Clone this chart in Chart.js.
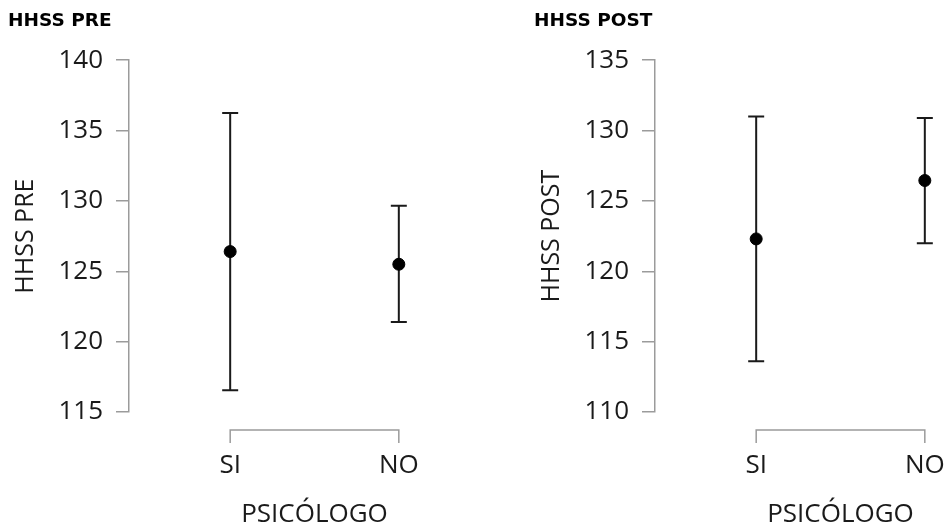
<!DOCTYPE html>
<html>
<head>
<meta charset="utf-8">
<script src="https://cdn.jsdelivr.net/npm/chart.js@4.4.1/dist/chart.umd.min.js"></script>
<style>
  html, body { margin: 0; padding: 0; background: #fff; overflow: hidden; }
  body { width: 944px; height: 524px; position: relative; }
  .panel { position: absolute; top: 0; width: 510px; height: 524px; }
</style>
</head>
<body>
<div class="panel" style="left:0"><canvas id="chart-pre"></canvas></div>
<div class="panel" style="left:526px"><canvas id="chart-post"></canvas></div>
<script>
const groups = ['SI', 'NO'];

const preMean = [126.4, 125.5];
const preLower = [116.55, 121.4];
const preUpper = [136.25, 129.65];
const preTicks = [115, 120, 125, 130, 135, 140];

const postMean = [122.3, 126.45];
const postLower = [113.6, 122.0];
const postUpper = [131.0, 130.9];
const postTicks = [110, 115, 120, 125, 130, 135];

const axisGrey = '#9b9b9b';
const inkColor = '#1a1a1a';
const fontFamily = '"Open Sans", "Lucida Grande", sans-serif';

// error bars drawn from the y scale, under the points
const errorBars = {
    id: 'errorBars',
    beforeDatasetsDraw(chart, args, opts) {
        let x = chart.scales.x, y = chart.scales.y, ctx = chart.ctx;
        ctx.save();
        ctx.strokeStyle = inkColor;
        ctx.lineWidth = 2;
        opts.lower.forEach((lo, i) => {
            let px = x.getPixelForValue(i);
            let yLo = y.getPixelForValue(lo);
            let yHi = y.getPixelForValue(opts.upper[i]);
            ctx.beginPath();
            ctx.moveTo(px, yLo); ctx.lineTo(px, yHi);
            ctx.moveTo(px - 8, yLo); ctx.lineTo(px + 8, yLo);
            ctx.moveTo(px - 8, yHi); ctx.lineTo(px + 8, yHi);
            ctx.stroke();
        });
        ctx.restore();
    }
};

// range frame for the x axis, spanning the first to last category
const xRangeFrame = {
    id: 'xRangeFrame',
    afterDraw(chart) {
        let x = chart.scales.x, ctx = chart.ctx;
        let y0 = chart.chartArea.bottom + 18;
        let x0 = x.getPixelForValue(0), x1 = x.getPixelForValue(groups.length - 1);
        ctx.save();
        ctx.strokeStyle = axisGrey;
        ctx.lineWidth = 1.5;
        ctx.beginPath();
        ctx.moveTo(x0, y0 + 13); ctx.lineTo(x0, y0); ctx.lineTo(x1, y0); ctx.lineTo(x1, y0 + 13);
        for (let i = 1; i < groups.length - 1; i++) {
            let px = x.getPixelForValue(i);
            ctx.moveTo(px, y0); ctx.lineTo(px, y0 + 13);
        }
        ctx.stroke();
        ctx.restore();
    }
};

function makePanel(canvasId, title, means, lower, upper, ticks) {
    return new Chart(document.getElementById(canvasId), {
        type: 'scatter',
        data: {
            datasets: [{
                data: means.map((m, i) => ({ x: i, y: m })),
                backgroundColor: '#000',
                borderColor: '#000',
                pointRadius: 6,
                pointHoverRadius: 6,
            }]
        },
        options: {
            responsive: true,
            maintainAspectRatio: false,
            animation: false,
            layout: { padding: { left: 8, right: 10, top: 0, bottom: 0 } },
            scales: {
                x: {
                    type: 'linear',
                    min: -0.6,
                    max: groups.length - 1 + 0.6,
                    afterBuildTicks: function(scale) {
                        scale.ticks = groups.map((g, i) => ({ value: i }));
                    },
                    afterFit: function(scale) { scale.height = 112; },
                    grid: { display: false, drawTicks: false },
                    border: { display: false },
                    ticks: {
                        padding: 38,
                        color: inkColor,
                        font: { family: fontFamily, size: 26 },
                        callback: function(value) { return groups[value]; },
                        maxRotation: 0,
                    },
                    title: {
                        display: true,
                        text: 'PSICÓLOGO',
                        color: inkColor,
                        font: { family: fontFamily, size: 26 },
                        padding: { top: 0, bottom: -6 },
                    }
                },
                y: {
                    min: ticks[0],
                    max: ticks[ticks.length - 1],
                    afterBuildTicks: function(scale) {
                        scale.ticks = ticks.map(v => ({ value: v }));
                    },
                    afterFit: function(scale) { scale.width = 121; },
                    grid: {
                        drawOnChartArea: false,
                        drawTicks: true,
                        tickLength: 13,
                        color: axisGrey,
                        lineWidth: 1.5,
                    },
                    border: { display: true, color: axisGrey, width: 1.5 },
                    ticks: {
                        padding: 13,
                        color: inkColor,
                        font: { family: fontFamily, size: 26 },
                    },
                    title: {
                        display: true,
                        text: title,
                        color: inkColor,
                        font: { family: fontFamily, size: 25 },
                        padding: { top: 3, bottom: 0 },
                    }
                }
            },
            plugins: {
                legend: { display: false },
                tooltip: { enabled: false },
                title: {
                    display: true,
                    text: title,
                    align: 'start',
                    color: '#000',
                    font: { family: '"DejaVu Sans", sans-serif', size: 18.5, weight: 'bold' },
                    padding: { top: 10, bottom: 28 },
                },
                errorBars: { lower: lower, upper: upper }
            }
        },
        plugins: [errorBars, xRangeFrame]
    });
}

makePanel('chart-pre', 'HHSS PRE', preMean, preLower, preUpper, preTicks);
makePanel('chart-post', 'HHSS POST', postMean, postLower, postUpper, postTicks);
</script>
</body>
</html>
